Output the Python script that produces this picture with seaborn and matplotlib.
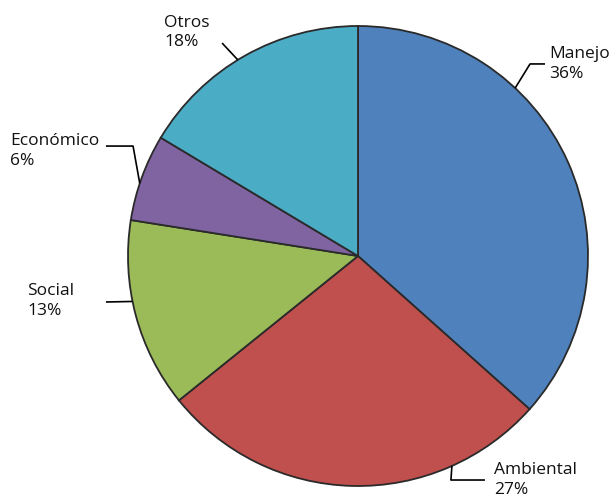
import numpy as np
import matplotlib
matplotlib.use("Agg")
import matplotlib.pyplot as plt
import seaborn as sns

# Datos del gráfico
categorias = ["Manejo", "Ambiental", "Social", "Económico", "Otros"]
# tamaño de cada porción tal como se ve dibujada
valores = [36.6, 27.6, 13.3, 6.1, 16.4]
# porcentajes impresos en las etiquetas
etiquetas_pct = ["36%", "27%", "13%", "6%", "18%"]
colores = ["#4F81BD", "#C0504D", "#9BBB59", "#8064A2", "#4BACC6"]

sns.set_theme(style="white")
plt.rcParams["font.family"] = ["Open Sans", "DejaVu Sans"]

fig = plt.figure(figsize=(6.14, 4.97), dpi=100)
ax = fig.add_axes([0, 0, 1, 1])

wedges, _ = ax.pie(
    valores,
    colors=sns.color_palette(colores),
    startangle=90,
    counterclock=False,
    radius=1.0,
    wedgeprops={"edgecolor": "#2a2a2a", "linewidth": 1.3},
)

# Ubicación de etiquetas (ángulo del punto de anclaje, recorrido de la guía, texto)
etiquetas = {
    "Manejo": (46.9, [(0.748, 0.835), (0.813, 0.835)], (0.830, 0.835)),
    "Ambiental": (-65.9, [(0.404, -0.974), (0.552, -0.974)], (0.591, -0.974)),
    "Social": (191.4, [(-1.096, -0.2)], (-1.439, -0.196)),
    "Económico": (161.6, [(-0.978, 0.478), (-1.096, 0.478)], (-1.513, 0.457)),
    "Otros": (121.5, [(-0.591, 0.926)], (-0.843, 0.972)),
}

for cat, pct in zip(categorias, etiquetas_pct):
    ang, guia, (tx, ty) = etiquetas[cat]
    a = np.deg2rad(ang)
    xs = [np.cos(a)] + [p[0] for p in guia]
    ys = [np.sin(a)] + [p[1] for p in guia]
    ax.plot(xs, ys, color="black", lw=1.2, solid_capstyle="butt", zorder=3)
    ax.text(tx, ty, f"{cat}\n{pct}", ha="left", va="center", multialignment="left",
            fontsize=12.5, linespacing=1.3, color="#111111")

ax.set_xlim((0 - 358) / 230, (614 - 358) / 230)
ax.set_ylim((256 - 497) / 230, 256 / 230)
ax.set_aspect("auto")
ax.axis("off")

fig.savefig("out.png", dpi=100)
